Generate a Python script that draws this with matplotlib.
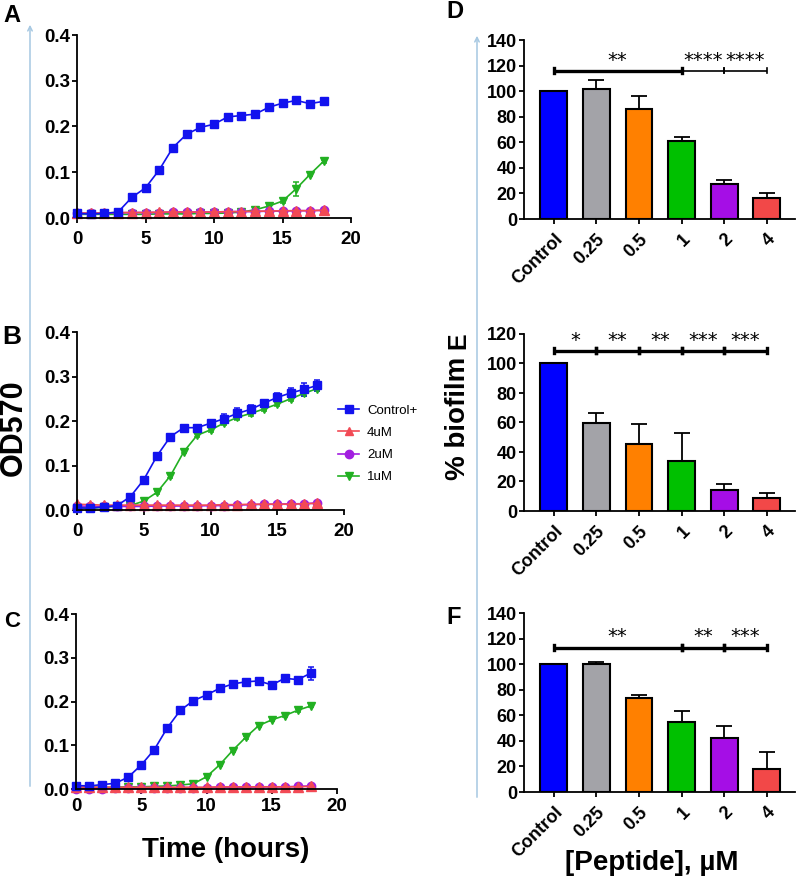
import matplotlib.pyplot as plt
from matplotlib.lines import Line2D
from matplotlib.patches import FancyArrowPatch
from matplotlib.ticker import FormatStrFormatter

plt.rcParams['font.family'] = ['Liberation Sans', 'DejaVu Sans']
plt.rcParams['font.weight'] = 'bold'

W, H = 797, 880

# growth curves, OD570 per hour
hours = [0, 1, 2, 3, 4, 5, 6, 7, 8, 9, 10, 11, 12, 13, 14, 15, 16, 17, 18]

a_ctrl = [0.010, 0.009, 0.010, 0.013, 0.045, 0.066, 0.105, 0.154, 0.183, 0.198, 0.205,
          0.221, 0.224, 0.227, 0.242, 0.251, 0.257, 0.250, 0.255]
a_ctrl_err = [0, 0, 0, 0, 0.002, 0.002, 0.002, 0.002, 0.002, 0.002, 0.002,
              0.002, 0.002, 0.002, 0.002, 0.002, 0.004, 0.002, 0.002]
a_4um = [0.011, 0.011, 0.011, 0.012, 0.012, 0.012, 0.013, 0.013, 0.013, 0.013, 0.013,
         0.014, 0.014, 0.015, 0.015, 0.016, 0.016, 0.016, 0.017]
a_2um = [0.010, 0.010, 0.011, 0.011, 0.012, 0.012, 0.012, 0.013, 0.013, 0.013, 0.013,
         0.014, 0.014, 0.014, 0.015, 0.015, 0.016, 0.016, 0.017]
a_1um = [0.008, 0.008, 0.008, 0.008, 0.008, 0.008, 0.009, 0.009, 0.009, 0.010, 0.010,
         0.011, 0.013, 0.018, 0.026, 0.037, 0.064, 0.095, 0.124]
a_1um_err = [0, 0, 0, 0, 0, 0, 0, 0, 0, 0, 0, 0, 0, 0.002, 0.002, 0.004, 0.015, 0.004, 0.003]

b_ctrl = [0.005, 0.004, 0.007, 0.010, 0.030, 0.068, 0.122, 0.165, 0.185, 0.185, 0.195,
          0.205, 0.217, 0.226, 0.240, 0.253, 0.263, 0.271, 0.280]
b_ctrl_err = [0, 0, 0, 0, 0.003, 0.003, 0.004, 0.006, 0.003, 0.003, 0.006,
              0.010, 0.012, 0.010, 0.008, 0.010, 0.012, 0.014, 0.012]
b_4um = [0.013, 0.012, 0.011, 0.011, 0.011, 0.011, 0.011, 0.011, 0.011, 0.011, 0.011,
         0.012, 0.012, 0.013, 0.013, 0.013, 0.013, 0.014, 0.015]
b_2um = [0.009, 0.008, 0.008, 0.008, 0.008, 0.008, 0.009, 0.009, 0.009, 0.009, 0.010,
         0.010, 0.011, 0.012, 0.013, 0.013, 0.014, 0.014, 0.016]
b_1um = [0.005, 0.004, 0.006, 0.008, 0.010, 0.020, 0.040, 0.077, 0.131, 0.168, 0.180,
         0.195, 0.208, 0.217, 0.227, 0.238, 0.250, 0.262, 0.273]
b_1um_err = [0, 0, 0, 0, 0, 0.002, 0.003, 0.004, 0.004, 0.004, 0.005,
             0.005, 0.005, 0.005, 0.005, 0.005, 0.006, 0.006, 0.006]

c_ctrl = [0.008, 0.007, 0.010, 0.013, 0.027, 0.055, 0.090, 0.140, 0.180, 0.202, 0.215,
          0.230, 0.240, 0.245, 0.247, 0.238, 0.253, 0.250, 0.265]
c_ctrl_err = [0, 0, 0, 0, 0.002, 0.002, 0.002, 0.003, 0.003, 0.002, 0.002,
              0.002, 0.002, 0.002, 0.002, 0.002, 0.002, 0.002, 0.015]
c_4um = [0.005, 0.004, 0.004, 0.004, 0.004, 0.004, 0.004, 0.004, 0.004, 0.004, 0.004,
         0.005, 0.005, 0.005, 0.005, 0.005, 0.005, 0.005, 0.006]
c_2um = [0.001, 0.001, 0.001, 0.002, 0.002, 0.002, 0.002, 0.003, 0.003, 0.003, 0.003,
         0.004, 0.004, 0.004, 0.005, 0.005, 0.005, 0.006, 0.007]
c_1um = [0.004, 0.004, 0.004, 0.004, 0.005, 0.005, 0.006, 0.007, 0.009, 0.012, 0.028,
         0.055, 0.088, 0.118, 0.145, 0.158, 0.168, 0.180, 0.190]
c_1um_err = [0, 0, 0, 0, 0, 0, 0, 0, 0, 0, 0.002, 0.002, 0.003, 0.003, 0.003, 0.003, 0.003, 0.003, 0.003]

# biofilm bars, % of control
conc_labels = ['Control', '0.25', '0.5', '1', '2', '4']
d_mean = [100, 102, 86, 61, 27, 16.5]
d_err = [0, 7, 10, 3, 3.5, 4]
e_mean = [100, 59.5, 45.5, 34, 14.5, 9]
e_err = [0, 7, 13.5, 19, 3.5, 3]
f_mean = [100, 100.5, 73.5, 54.5, 42.5, 18]
f_err = [0, 1, 2.2, 8.5, 9.5, 13]

# significance brackets: (from bar, to bar, stars, thick?)
d_sig = [(0, 3, '**', True), (3, 4, '****', False), (4, 5, '****', False)]
e_sig = [(0, 1, '*', True), (1, 2, '**', True), (2, 3, '**', True), (3, 4, '***', True), (4, 5, '***', True)]
f_sig = [(0, 3, '**', True), (3, 4, '**', True), (4, 5, '***', True)]

BLUE = '#1212ee'
RED = '#f24a55'
PURPLE = '#a21ee0'
GREEN = '#22b022'
BAR_COLORS = ['#0000ff', '#a3a3a8', '#ff8000', '#00c000', '#a50ee6', '#f24848']
ARROW_COLOR = '#a6c8e2'


def box(left, right, top, bottom):
    return [left / W, 1 - bottom / H, (right - left) / W, (bottom - top) / H]


def style_axes(ax, labelsize, xpad):
    for side in ('top', 'right'):
        ax.spines[side].set_visible(False)
    for side in ('left', 'bottom'):
        ax.spines[side].set_linewidth(1.3)
    ax.tick_params(axis='both', length=3.6, width=1.3, labelsize=labelsize)
    ax.tick_params(axis='y', pad=1.5)
    ax.tick_params(axis='x', pad=xpad)


def draw_growth(ax, ctrl, ctrl_err, c4, c2, c1, c1_err, xpad):
    series = [(c1, c1_err, GREEN, 'v', 5.5), (c2, None, PURPLE, 'o', 6),
              (c4, None, RED, '^', 6.5), (ctrl, ctrl_err, BLUE, 's', 5.5)]
    for vals, err, color, marker, ms in series:
        ax.errorbar(hours, vals, yerr=err, color=color, mec=color, marker=marker, ms=ms,
                    lw=1.2, elinewidth=1.1, capsize=2.5, capthick=1.1, clip_on=False)
    ax.set_xlim(0, 20)
    ax.set_ylim(0, 0.4)
    ax.set_xticks([0, 5, 10, 15, 20])
    ax.set_yticks([0, 0.1, 0.2, 0.3, 0.4])
    ax.yaxis.set_major_formatter(FormatStrFormatter('%.1f'))
    style_axes(ax, 13.5, xpad)


def draw_bars(ax, means, errs, ymax, ystep, sig, sig_y, cap):
    x = list(range(len(conc_labels)))
    ax.errorbar(x, means, yerr=[[0] * len(errs), errs], fmt='none', ecolor='k',
                elinewidth=1.3, capsize=6, capthick=1.3, zorder=2)
    ax.bar(x, means, width=0.63, color=BAR_COLORS, edgecolor='k', linewidth=1.5, zorder=3)
    for a, b, stars, thick in sig:
        lw = 2.4 if thick else 1.2
        ax.plot([a, b], [sig_y, sig_y], color='k', lw=lw, clip_on=False, solid_capstyle='butt')
        for xe in (a, b):
            ax.plot([xe, xe], [sig_y - cap, sig_y + cap], color='k', lw=lw, clip_on=False)
        ax.text((a + b) / 2, sig_y + cap * 0.4, stars, ha='center', va='bottom',
                fontsize=14, fontweight='normal', family='DejaVu Sans')
    ax.set_xlim(-0.70, 5.66)
    ax.set_ylim(0, ymax)
    ax.set_yticks(list(range(0, ymax + 1, ystep)))
    ax.set_xticks(x)
    ax.set_xticklabels(conc_labels, rotation=45, ha='right', rotation_mode='anchor')
    style_axes(ax, 13, 5)


fig = plt.figure(figsize=(W / 100, H / 100), dpi=100)

ax_a = fig.add_axes(box(77, 351, 35, 218))
ax_b = fig.add_axes(box(77, 344, 332, 510))
ax_c = fig.add_axes(box(76, 337, 614, 789))
draw_growth(ax_a, a_ctrl, a_ctrl_err, a_4um, a_2um, a_1um, a_1um_err, 6)
draw_growth(ax_b, b_ctrl, b_ctrl_err, b_4um, b_2um, b_1um, b_1um_err, 6)
draw_growth(ax_c, c_ctrl, c_ctrl_err, c_4um, c_2um, c_1um, c_1um_err, 3)

ax_d = fig.add_axes(box(524, 795, 40, 219))
ax_e = fig.add_axes(box(524, 795, 334, 511))
ax_f = fig.add_axes(box(524, 795, 613, 792))
draw_bars(ax_d, d_mean, d_err, 140, 20, d_sig, 116, 2.0)
draw_bars(ax_e, e_mean, e_err, 120, 20, e_sig, 108.5, 1.7)
draw_bars(ax_f, f_mean, f_err, 140, 20, f_sig, 113, 2.0)

handles = [
    Line2D([], [], color=BLUE, marker='s', ms=5.5, lw=1.2),
    Line2D([], [], color=RED, marker='^', ms=5.5, lw=1.2),
    Line2D([], [], color=PURPLE, marker='o', ms=6, lw=1.2),
    Line2D([], [], color=GREEN, marker='v', ms=5.5, lw=1.2),
]
fig.legend(handles, ['Control+', '4uM', '2uM', '1uM'], loc='center left',
           bbox_to_anchor=(338 / W, 1 - 444 / H), frameon=False,
           prop={'size': 9.5, 'weight': 'normal'}, handlelength=1.6,
           handletextpad=0.6, labelspacing=0.75, borderpad=0, borderaxespad=0)

# light blue guide arrows
for xp, y0, y1 in [(30, 789, 22), (477, 800, 33)]:
    fig.add_artist(FancyArrowPatch((xp / W, 1 - y0 / H), (xp / W, 1 - y1 / H),
                                   transform=fig.transFigure, arrowstyle='->',
                                   mutation_scale=8, color=ARROW_COLOR, lw=1.1))


# panel letters and axis titles
def fig_text(xp, yp, s, size, **kw):
    fig.text(xp / W, 1 - yp / H, s, fontsize=size, fontweight='bold',
             ha='center', va='center', **kw)


fig_text(12, 15, 'A', 17)
fig_text(12, 337, 'B', 19)
fig_text(12, 621, 'C', 16)
fig_text(455, 12, 'D', 17)
fig_text(458, 341, 'E', 18, rotation=90)
fig_text(454, 618, 'F', 17)
fig_text(14, 428, 'OD570', 22, rotation=90)
fig_text(458, 418, '% biofilm', 20, rotation=90)
fig_text(226, 850, 'Time (hours)', 20)
fig_text(652, 863, '[Peptide], µM', 20)

fig.savefig('out.png', dpi=100)
